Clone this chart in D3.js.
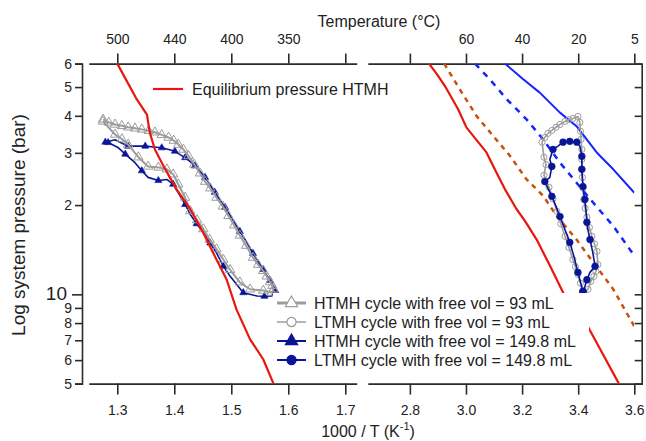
<!DOCTYPE html>
<html>
<head>
<meta charset="utf-8">
<script src="https://cdn.jsdelivr.net/npm/d3@7"></script>
<style>
body { margin: 0; background: #fff; }
text { font-family: "Liberation Sans", Arial, sans-serif; fill: #222; }
</style>
</head>
<body>
<script>
var width = 646, height = 441;

// ticks / labels
var leftTicks = [1.3, 1.4, 1.5, 1.6, 1.7];
var rightTicks = [2.8, 3.0, 3.2, 3.4, 3.6];
var topLeftLabels = ["500", "440", "400", "350", ""];
var topRightLabels = ["", "60", "40", "20", "5"];
var yTicks = [5, 6, 7, 8, 9, 10, 20, 30, 40, 50, 60];
var yTickLabels = ["5", "6", "7", "8", "9", "10", "2", "3", "4", "5", "6"];

// equilibrium curves (1000/T, pressure)
var eqLeftX = [1.300, 1.334, 1.352, 1.357, 1.366, 1.381, 1.404, 1.428, 1.451, 1.474, 1.492, 1.509, 1.533, 1.556, 1.574];
var eqLeftP = [60, 45.5, 40.4, 35.1, 30.8, 27.1, 22.6, 19.4, 16.1, 13.1, 11.2, 8.9, 7.05, 6.04, 5.0];
var eqRightX = [2.868, 2.897, 2.925, 2.972, 3.002, 3.073, 3.109, 3.139, 3.180, 3.210, 3.252, 3.299, 3.347, 3.431, 3.545];
var eqRightP = [60, 55.2, 50.4, 42.1, 36.5, 30.1, 25.7, 22.6, 19.4, 17.7, 15.3, 12.5, 10.1, 7.9, 5.0];
var orangeX = [2.922, 2.978, 3.038, 3.097, 3.157, 3.216, 3.275, 3.323, 3.394, 3.454, 3.525, 3.600];
var orangeP = [60, 49.1, 39.9, 34.2, 29.3, 24.4, 21.5, 18.4, 15.3, 12.8, 10.4, 7.8];
var blueDashX = [3.032, 3.085, 3.145, 3.216, 3.275, 3.335, 3.394, 3.453, 3.525, 3.600];
var blueDashP = [60, 53.1, 45.5, 38.9, 33.3, 27.8, 23.8, 20.4, 17.0, 13.5];
var blueSolidX = [3.139, 3.204, 3.263, 3.335, 3.394, 3.466, 3.525, 3.600];
var blueSolidP = [60, 53.1, 47.9, 41.0, 36.9, 30.1, 26.4, 22.0];

// HTMH cycles (left panel)
var htmh93X = [1.275, 1.285, 1.296, 1.308, 1.319, 1.331, 1.343, 1.355, 1.366, 1.378, 1.390, 1.399, 1.407, 1.416, 1.425, 1.435, 1.445, 1.454, 1.463, 1.474, 1.485, 1.495, 1.505, 1.515, 1.526, 1.538, 1.547, 1.556, 1.562, 1.568, 1.572, 1.574, 1.571, 1.556, 1.533, 1.515, 1.498, 1.486, 1.474, 1.462, 1.451, 1.440, 1.428, 1.419, 1.407, 1.398, 1.387, 1.372, 1.354, 1.337, 1.319, 1.308, 1.296, 1.275];
var htmh93P = [38.9, 38.0, 37.4, 37.0, 36.6, 36.3, 36.0, 35.6, 35.2, 34.5, 33.8, 33.0, 32.0, 30.8, 29.3, 27.4, 25.6, 24.0, 22.8, 21.2, 19.8, 18.4, 17.1, 15.8, 14.6, 13.3, 12.6, 12.0, 11.5, 11.0, 10.7, 10.4, 10.15, 10.3, 10.4, 10.98, 12.1, 13.1, 14.2, 15.3, 16.6, 17.8, 19.1, 21.2, 23.5, 25.4, 26.4, 26.8, 27.0, 29.0, 32.0, 33.4, 34.6, 38.3];
var htmh149X = [1.279, 1.296, 1.319, 1.334, 1.349, 1.364, 1.378, 1.390, 1.401, 1.410, 1.419, 1.428, 1.436, 1.445, 1.454, 1.463, 1.471, 1.480, 1.489, 1.502, 1.515, 1.527, 1.538, 1.547, 1.556, 1.562, 1.568, 1.574, 1.577, 1.571, 1.558, 1.545, 1.521, 1.498, 1.486, 1.474, 1.463, 1.451, 1.439, 1.428, 1.419, 1.407, 1.398, 1.387, 1.372, 1.354, 1.343, 1.331, 1.314, 1.302, 1.284, 1.279];
var htmh149P = [32.6, 33.2, 31.6, 31.6, 31.6, 31.4, 31.2, 30.8, 30.4, 29.6, 28.9, 28.0, 27.1, 26.0, 24.8, 23.4, 22.1, 20.8, 19.65, 17.9, 16.3, 15.0, 13.75, 12.9, 12.14, 11.6, 11.15, 10.6, 10.3, 9.87, 9.85, 9.87, 10.13, 11.5, 12.45, 13.8, 14.9, 16.15, 17.3, 18.6, 20.1, 22.0, 23.5, 24.4, 24.2, 24.8, 26.1, 27.8, 29.7, 31.2, 32.5, 32.6];

// LTMH cycles (right panel)
var ltmh93X = [3.417, 3.408, 3.399, 3.390, 3.381, 3.367, 3.353, 3.338, 3.324, 3.310, 3.296, 3.278, 3.285, 3.278, 3.271, 3.281, 3.292, 3.306, 3.321, 3.335, 3.353, 3.367, 3.381, 3.399, 3.406, 3.408, 3.410, 3.413, 3.413, 3.413, 3.415, 3.417, 3.420, 3.425, 3.431, 3.440, 3.449, 3.458, 3.467, 3.470, 3.463, 3.456, 3.445, 3.435, 3.417];
var ltmh93P = [10.08, 10.9, 11.68, 12.4, 13.1, 14.4, 15.7, 17.3, 19.05, 21.0, 22.96, 25.2, 27.4, 29.0, 32.6, 33.8, 34.9, 35.7, 36.6, 37.4, 38.3, 38.8, 39.2, 39.8, 38.0, 35.5, 33.3, 30.8, 28.5, 26.5, 24.8, 22.8, 20.9, 19.5, 18.2, 16.8, 15.7, 14.8, 13.96, 12.6, 11.96, 11.5, 11.06, 10.4, 10.08];
var ltmh149X = [3.417, 3.408, 3.399, 3.385, 3.370, 3.352, 3.335, 3.321, 3.306, 3.294, 3.281, 3.299, 3.306, 3.299, 3.310, 3.328, 3.346, 3.358, 3.370, 3.383, 3.395, 3.406, 3.413, 3.413, 3.413, 3.415, 3.417, 3.420, 3.424, 3.428, 3.431, 3.436, 3.442, 3.452, 3.460, 3.442, 3.431, 3.424, 3.417];
var ltmh149P = [10.23, 11.0, 11.86, 13.4, 14.97, 16.6, 18.3, 19.8, 21.4, 22.6, 24.0, 24.8, 27.0, 28.5, 30.8, 31.6, 32.6, 32.8, 32.8, 32.7, 32.6, 31.6, 29.2, 27.7, 26.4, 24.6, 23.1, 21.9, 20.9, 19.1, 17.5, 16.3, 15.3, 13.86, 12.43, 11.86, 11.2, 10.64, 10.23];

var red = "#e8160f", orange = "#cc4f0c", blue = "#1423ff", navy = "#0a1496", gray = "#9c9c9c", axisCol = "#2b2b2b";

var svg = d3.select("body").append("svg")
    .attr("width", width)
    .attr("height", height);

var yTop = 63.6, yBot = 383.6;

var xL = d3.scaleLinear().domain([1.25, 1.72]).range([88.8, 356.7]);
var xR = d3.scaleLinear().domain([2.65, 3.6]).range([367.8, 634.3]);
var y = d3.scaleLog().domain([5, 60]).range([yBot, yTop]);

// clip paths for the two panels
var defs = svg.append("defs");
defs.append("clipPath").attr("id", "clipL").append("rect")
    .attr("x", xL.range()[0]).attr("y", yTop).attr("width", xL.range()[1] - xL.range()[0]).attr("height", yBot - yTop);
defs.append("clipPath").attr("id", "clipR").append("rect")
    .attr("x", xR.range()[0]).attr("y", yTop).attr("width", xR.range()[1] - xR.range()[0]).attr("height", yBot - yTop);

// ---- axes ----
function xAxes(x, ticks, topLabels) {
    svg.append("g").attr("transform", "translate(0," + yBot + ")")
        .call(d3.axisBottom(x).tickValues(ticks).tickSize(11).tickSizeOuter(0).tickPadding(10)
            .tickFormat(d3.format(".1f")));
    svg.append("g").attr("transform", "translate(0," + yTop + ")")
        .call(d3.axisTop(x).tickValues(ticks).tickSize(10).tickSizeOuter(0).tickPadding(10)
            .tickFormat(function(d, i) { return topLabels[i]; }));
}
xAxes(xL, leftTicks, topLeftLabels);
xAxes(xR, rightTicks, topRightLabels);

// left log axis (offset from plot)
var yAxisL = svg.append("g").attr("transform", "translate(82,0)")
    .call(d3.axisLeft(y).tickValues(yTicks).tickSizeOuter(0).tickSize(7).tickPadding(3)
        .tickFormat(function(d, i) { return yTickLabels[i]; }));

// right log axis, inward ticks, no labels
svg.append("g").attr("transform", "translate(641.7,0)")
    .call(d3.axisRight(y).tickValues(yTicks).tickSizeOuter(0).tickSize(-7).tickFormat(""));

svg.selectAll(".domain").attr("stroke", axisCol).attr("stroke-width", 1.6);
svg.selectAll(".tick line").attr("stroke", axisCol).attr("stroke-width", 1.6);
svg.selectAll(".tick text").style("font-size", "14px")
    .style("font-family", "'Liberation Sans', Arial, sans-serif").attr("fill", "#222");

yAxisL.selectAll(".tick").filter(function(d) { return d === 10; })
    .each(function() {
        d3.select(this).select("line").attr("x2", -10);
        d3.select(this).select("text").attr("x", -15).attr("dy", "0.25em").style("font-size", "19px");
    });

// ---- titles ----
svg.append("text").attr("x", 379).attr("y", 27).attr("text-anchor", "middle")
    .style("font-size", "16px").text("Temperature (°C)");
var xt = svg.append("text").attr("x", 368).attr("y", 437).attr("text-anchor", "middle")
    .style("font-size", "16px");
xt.append("tspan").text("1000 / T (K");
xt.append("tspan").attr("dy", -7).style("font-size", "11px").text("-1");
xt.append("tspan").attr("dy", 7).text(")");
svg.append("text").attr("transform", "translate(25,225) rotate(-90)").attr("text-anchor", "middle")
    .style("font-size", "19px").text("Log system pressure (bar)");

// ---- lines ----
function drawLine(panel, xs, ys, x, color, w, dash) {
    var line = d3.line().x(function(d) { return x(d[0]); }).y(function(d) { return y(d[1]); });
    return panel.append("path").datum(d3.zip(xs, ys))
        .attr("d", line).attr("fill", "none")
        .attr("stroke", color).attr("stroke-width", w)
        .attr("stroke-dasharray", dash || null)
        .attr("stroke-linejoin", "round");
}

var pL = svg.append("g").attr("clip-path", "url(#clipL)");
var pR = svg.append("g").attr("clip-path", "url(#clipR)");

drawLine(pR, orangeX, orangeP, xR, orange, 2.5, "5,5");
drawLine(pR, blueDashX, blueDashP, xR, blue, 2.5, "6,6");
drawLine(pR, blueSolidX, blueSolidP, xR, blue, 2);

// cycles: line plus markers on every 'step'-th point
function cycle(panel, xs, ys, x, color, w, shape, filled, size, step) {
    drawLine(panel, xs, ys, x, color, w);
    var sym = d3.symbol().type(shape).size(size);
    var pts = d3.zip(xs, ys).filter(function(d, i) { return i % step === 0; });
    panel.selectAll(null).data(pts).enter().append("path")
        .attr("d", sym)
        .attr("transform", function(d) { return "translate(" + x(d[0]) + "," + y(d[1]) + ")"; })
        .attr("fill", filled ? color : "none")
        .attr("stroke", color).attr("stroke-width", filled ? 0.6 : 1);
}
cycle(pL, htmh149X, htmh149P, xL, navy, 1.6, d3.symbolTriangle, true, 22, 2);
cycle(pL, htmh93X, htmh93P, xL, gray, 2, d3.symbolTriangle, false, 38, 1);
cycle(pR, ltmh93X, ltmh93P, xR, gray, 1.6, d3.symbolCircle, false, 30, 1);
cycle(pR, ltmh149X, ltmh149P, xR, navy, 1.6, d3.symbolCircle, true, 36, 2);

drawLine(pL, eqLeftX, eqLeftP, xL, red, 2.2);
drawLine(pR, eqRightX, eqRightP, xR, red, 2.2);

// ---- legends ----
svg.append("line").attr("x1", 153).attr("x2", 183).attr("y1", 89).attr("y2", 89)
    .attr("stroke", red).attr("stroke-width", 2.2);
svg.append("text").attr("x", 192).attr("y", 95).style("font-size", "16px").text("Equilibrium pressure HTMH");

var legendItems = [
    { label: "HTMH cycle with free vol = 93 mL", color: gray, w: 3, shape: d3.symbolTriangle, filled: false },
    { label: "LTMH cycle with free vol = 93 mL", color: gray, w: 1.5, shape: d3.symbolCircle, filled: false },
    { label: "HTMH cycle with free vol = 149.8 mL", color: navy, w: 2, shape: d3.symbolTriangle, filled: true },
    { label: "LTMH cycle with free vol = 149.8 mL", color: navy, w: 2, shape: d3.symbolCircle, filled: true }
];
var lg = svg.append("g");
lg.append("rect").attr("x", 273).attr("y", 293).attr("width", 316).attr("height", 77).attr("fill", "#fff");
legendItems.forEach(function(it, i) {
    var cy = 303 + i * 19;
    lg.append("line").attr("x1", 277).attr("x2", 306).attr("y1", cy).attr("y2", cy)
        .attr("stroke", it.color).attr("stroke-width", it.w);
    lg.append("path").attr("d", d3.symbol().type(it.shape).size(65)())
        .attr("transform", "translate(291.5," + cy + ")")
        .attr("fill", it.filled ? it.color : "#fff")
        .attr("stroke", it.color).attr("stroke-width", 1.2);
    lg.append("text").attr("x", 314).attr("y", cy + 6).style("font-size", "16px").text(it.label);
});
</script>
</body>
</html>
